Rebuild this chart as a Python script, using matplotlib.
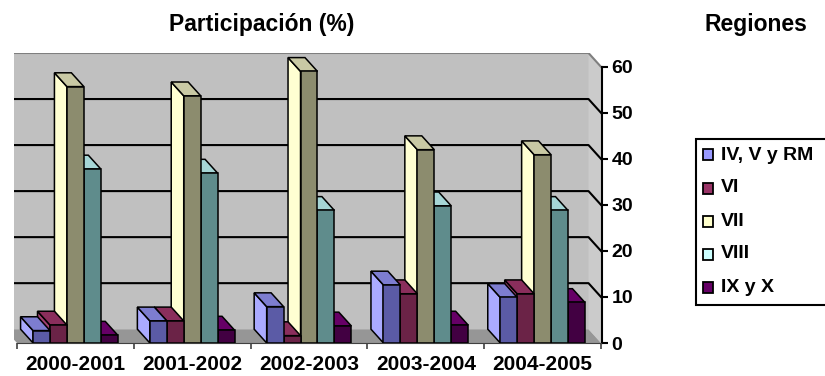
import matplotlib
matplotlib.use("Agg")
import matplotlib.pyplot as plt
from matplotlib.patches import Polygon, Rectangle

plt.rcParams['font.family'] = ['Liberation Sans', 'DejaVu Sans']
plt.rcParams['font.weight'] = 'bold'

# data (participation %, per season and region)
seasons = ["2000-2001", "2001-2002", "2002-2003", "2003-2004", "2004-2005"]
regions = ["IV, V y RM", "VI", "VII", "VIII", "IX y X"]
iv_v_rm = [2.7, 4.8, 7.9, 12.6, 9.9]
vi = [3.9, 4.8, 1.6, 10.7, 10.7]
vii = [55.7, 53.7, 59.0, 42.0, 40.9]
viii = [37.8, 36.9, 28.8, 29.8, 28.8]
ix_x = [1.7, 2.8, 3.7, 3.9, 8.8]
yticks = [0, 10, 20, 30, 40, 50, 60]

series = [iv_v_rm, vi, vii, viii, ix_x]
legend_colors = ["#9999FF", "#993366", "#FFFFCC", "#CCFFFF", "#660066"]
# (front, top, left side) shading for the 3d look
face_colors = [("#5B5BA6", "#7D7DD0", "#AAAAFF"),
               ("#6B2347", "#8A2E5C", "#A04070"),
               ("#8C8C6E", "#C9C9A4", "#FFFFD2"),
               ("#5F8C8C", "#A6D6D6", "#CCFFFF"),
               ("#420042", "#660066", "#6E0A6E")]

W = 0.145   # bar width in category units
DX = 0.107  # depth shift (back goes up-left)
DY = 3.0    # depth shift in value units
n = len(seasons)

fig = plt.figure(figsize=(8.25, 3.76), dpi=100)
ax = fig.add_axes([14/825, 1-343/376, (602-14)/825, (343-53)/376])
ax.set_xlim(-3/116.8, n + 1/116.8)
ax.set_ylim(0, 60 + DY)
ax.patch.set_visible(False)

# back wall, side wall, floor
ax.add_patch(Polygon([(-DX, DY), (n-DX, DY), (n-DX, 60+DY), (-DX, 60+DY)],
                     facecolor="#C0C0C0", edgecolor="none", zorder=0))
ax.add_patch(Polygon([(n-DX, DY), (n, 0), (n, 60), (n-DX, 60+DY)],
                     facecolor="#CBCBCB", edgecolor="none", zorder=0))
ax.add_patch(Polygon([(-DX, DY), (n-DX, DY), (n, 0), (0, 0)],
                     facecolor="#969696", edgecolor="none", zorder=0))
ax.plot([-DX, n-DX, n], [60+DY, 60+DY, 60], color="#7F7F7F", lw=1.5, zorder=1)
for v in yticks[1:-1]:
    ax.plot([-DX, n-DX, n], [v+DY, v+DY, v], color="black", lw=1.5, zorder=1)

# bars, drawn right to left so nearer faces cover the hidden ones
z = 2
for g in range(n-1, -1, -1):
    for s in range(len(series)-1, -1, -1):
        h = series[s][g]
        x0 = g + 0.5 - 2.5*W + s*W
        front, top, side = face_colors[s]
        kw = dict(edgecolor="black", lw=1.1, zorder=z)
        ax.add_patch(Polygon([(x0, 0), (x0, h), (x0-DX, h+DY), (x0-DX, DY)], facecolor=side, **kw))
        ax.add_patch(Polygon([(x0, h), (x0+W, h), (x0+W-DX, h+DY), (x0-DX, h+DY)], facecolor=top, **kw))
        ax.add_patch(Rectangle((x0, 0), W, h, facecolor=front, **kw))
        z += 1

# axes
for side in ["top", "left"]:
    ax.spines[side].set_visible(False)
ax.spines["right"].set_bounds(0, 60)
ax.spines["right"].set_linewidth(1.5)
ax.spines["bottom"].set_bounds(0, n)
ax.spines["bottom"].set_color("#404040")
ax.yaxis.tick_right()
ax.set_yticks(yticks)
ax.set_yticklabels([str(t) for t in yticks], fontsize=14, fontweight="bold")
ax.tick_params(axis="y", direction="out", length=4, width=1.5, pad=3)
ax.set_xticks([i + 0.5 for i in range(n)])
ax.set_xticklabels(seasons, fontsize=15, fontweight="bold")
ax.set_xticks(range(n + 1), minor=True)
ax.tick_params(axis="x", which="major", length=0, pad=9)
ax.tick_params(axis="x", which="minor", length=4, width=1.2, color="#404040")

fig.text(262/825, 1-31/376, "Participación (%)", fontsize=16.5, fontweight="bold", ha="center", va="baseline")
fig.text(756/825, 1-31/376, "Regiones", fontsize=16.5, fontweight="bold", ha="center", va="baseline")

# legend box (runs off the right edge like the original)
fig.patches.append(Rectangle((696/825, 1-305/376), 140/825, 166/376, transform=fig.transFigure,
                             facecolor="white", edgecolor="black", lw=1.5, figure=fig))
rows = [155, 188, 221, 254, 287]
for lab, col, yy in zip(regions, legend_colors, rows):
    fig.patches.append(Rectangle((703/825, 1-(yy+5.5)/376), 10/825, 11/376, transform=fig.transFigure,
                                 facecolor=col, edgecolor="black", lw=1.3, figure=fig))
    fig.text(721/825, 1-yy/376, lab, fontsize=14, fontweight="bold", ha="left", va="center")

fig.savefig("out.png", dpi=100)
